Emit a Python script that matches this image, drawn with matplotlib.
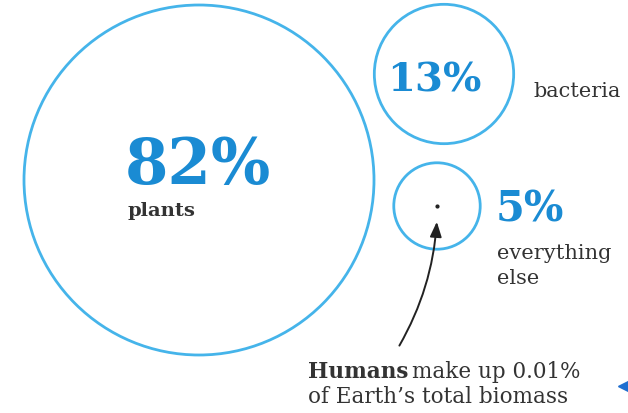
import matplotlib
matplotlib.use("Agg")
import matplotlib.pyplot as plt
from matplotlib.patches import Circle
import numpy as np

# Data
categories = ["plants", "bacteria", "everything else"]
shares = [82, 13, 5]
labels = ["82%", "13%", "5%"]
human_share = 0.01

W, H = 628, 413
fig = plt.figure(figsize=(W / 100, H / 100), dpi=100)
ax = fig.add_axes([0, 0, 1, 1])
ax.set_xlim(0, W)
ax.set_ylim(H, 0)
ax.set_aspect("equal")
ax.axis("off")

circle_col = "#45b4ea"
num_col = "#1a8bd3"
txt_col = "#333333"
serif = ["DejaVu Serif"]

k = 175 / np.sqrt(shares[0])
radii = [k * np.sqrt(s) for s in shares]
centers = [(199, 180), (444, 74), (437, 206)]

for (cx, cy), r in zip(centers, radii):
    ax.add_patch(Circle((cx, cy), r, fill=False, ec=circle_col, lw=2.0))

# 82% plants
ax.text(125, 184, labels[0], fontsize=45, fontweight="bold", color=num_col,
        family=serif, ha="left", va="baseline")
ax.text(127, 216, categories[0], fontsize=14, fontweight="bold", color=txt_col,
        family=serif, ha="left", va="baseline")

# 13% bacteria
ax.text(387, 91, labels[1], fontsize=29, fontweight="bold", color=num_col,
        family=serif, ha="left", va="baseline")
ax.text(533, 97, categories[1], fontsize=15, color=txt_col,
        family=serif, ha="left", va="baseline")

# 5% everything else
ax.text(496, 221, labels[2], fontsize=30, fontweight="bold", color=num_col,
        family=serif, ha="left", va="baseline")
ax.text(497, 259, "everything", fontsize=15, color=txt_col,
        family=serif, ha="left", va="baseline")
ax.text(497, 284, "else", fontsize=15, color=txt_col,
        family=serif, ha="left", va="baseline")

# Humans dot and arrow
ax.plot([centers[2][0]], [centers[2][1]], marker="o", ms=2, color="#222222")
ax.annotate("", xy=(437, 219), xytext=(398, 348),
            arrowprops=dict(arrowstyle="-|>,head_length=0.9,head_width=0.35",
                            color="#222222", lw=1.4,
                            connectionstyle="arc3,rad=0.12"))

fs = 15.5
t1 = ax.text(308, 378, "Humans", fontsize=fs, fontweight="bold", color=txt_col,
             family=serif, ha="left", va="baseline")
fig.canvas.draw()
bb = t1.get_window_extent()
inv = ax.transData.inverted()
x_end = inv.transform((bb.x1, bb.y0))[0]
ax.text(x_end + 4, 378, f"make up {human_share:.2f}%", fontsize=fs, color=txt_col,
        family=serif, ha="left", va="baseline")
ax.text(308, 403, "of Earth\u2019s total biomass", fontsize=fs, color=txt_col,
        family=serif, ha="left", va="baseline")

# small corner marker
ax.plot([623], [386], marker="<", ms=7, color="#1f6fd0", mec="#1f6fd0")

fig.savefig("out.png", dpi=100)
